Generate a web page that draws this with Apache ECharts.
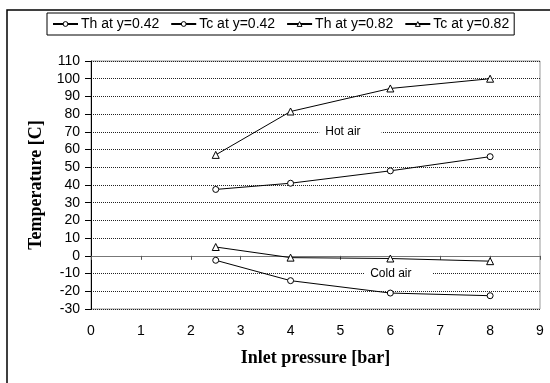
<!DOCTYPE html>
<html>
<head>
<meta charset="utf-8">
<script src="https://cdn.jsdelivr.net/npm/echarts@6/dist/echarts.min.js"></script>
<style>
  html, body { margin: 0; padding: 0; background: #fff; }
  #chart { width: 550px; height: 383px; }
</style>
</head>
<body>
<div id="chart"></div>
<script>
// inlet pressure [bar]
var pressure = [2.5, 4, 6, 8];
// temperatures [C]
var thLow = [37.5, 41, 48, 56];      // Th at y=0.42
var tcLow = [-2.5, -14, -21, -22.5]; // Tc at y=0.42
var thHigh = [57, 81.5, 94.5, 100];  // Th at y=0.82
var tcHigh = [5, -1, -1.5, -3];      // Tc at y=0.82

var names = ['Th at y=0.42', 'Tc at y=0.42', 'Th at y=0.82', 'Tc at y=0.82'];

function pairs(ys) {
    return pressure.map(function (x, i) { return [x, ys[i]]; });
}

function line(name, ys, symbol, size, extra) {
    var s = {
        name: name,
        type: 'line',
        xAxisIndex: 0,
        data: pairs(ys),
        symbol: symbol,
        symbolSize: size,
        showAllSymbol: true,
        lineStyle: {color: '#000', width: 1},
        itemStyle: {color: '#fff', borderColor: '#000', borderWidth: 1},
        emphasis: {disabled: true},
        z: 5
    };
    if (extra) s.markPoint = extra;
    return s;
}

// text note with a white box that breaks the gridline
function note(text, x, y) {
    return {
        symbol: 'circle',
        symbolSize: 1,
        silent: true,
        itemStyle: {color: 'rgba(0,0,0,0)', borderWidth: 0},
        data: [{coord: [x, y]}],
        label: {
            show: true,
            position: 'inside',
            formatter: text,
            color: '#000',
            fontFamily: 'Liberation Sans',
            fontSize: 12,
            backgroundColor: '#fff',
            padding: [3, 21, 3, 6]
        }
    };
}

var chart = echarts.init(document.getElementById('chart'));
chart.setOption({
    animation: false,
    textStyle: {fontFamily: 'Liberation Sans'},
    graphic: [{
        type: 'rect',
        shape: {x: 7, y: 10, width: 600, height: 420},
        style: {fill: 'none', stroke: '#000', lineWidth: 1.5},
        silent: true
    }],
    legend: {
        data: names,
        left: 47,
        top: 13,
        padding: [4, 5],
        itemGap: 11,
        itemWidth: 25,
        itemHeight: 6,
        borderColor: '#000',
        borderWidth: 1,
        itemStyle: {color: '#fff', borderColor: '#000', borderWidth: 1},
        textStyle: {color: '#000', fontSize: 14, fontFamily: 'Liberation Sans', padding: [0, 0, 0, -2]}
    },
    grid: {
        left: 91, right: 10, top: 61, bottom: 74,
        show: true,
        borderColor: '#999',
        borderWidth: 1
    },
    xAxis: [{
        type: 'value',
        min: 0, max: 9, interval: 1,
        position: 'bottom',
        name: 'Inlet pressure [bar]',
        nameLocation: 'middle',
        nameGap: 40,
        nameTextStyle: {fontFamily: 'Liberation Serif', fontWeight: 'bold', fontSize: 18, color: '#000'},
        axisLine: {show: false, onZero: false},
        axisTick: {show: false},
        splitLine: {show: false},
        axisLabel: {color: '#000', fontSize: 14, margin: 15}
    }, {
        type: 'value',
        min: 0, max: 9, interval: 1,
        position: 'bottom',
        axisLine: {show: true, onZero: true, lineStyle: {color: '#777', width: 1}},
        axisTick: {show: true, length: 4, lineStyle: {color: '#555'}},
        axisLabel: {show: false},
        splitLine: {show: false}
    }],
    yAxis: {
        type: 'value',
        min: -30, max: 110, interval: 10,
        name: 'Temperature [C]',
        nameLocation: 'middle',
        nameGap: 45,
        nameTextStyle: {fontFamily: 'Liberation Serif', fontWeight: 'bold', fontSize: 18, color: '#000'},
        axisLine: {show: true, lineStyle: {color: '#000', width: 1}},
        axisTick: {show: true, length: 6, lineStyle: {color: '#000'}},
        axisLabel: {color: '#000', fontSize: 14, margin: 11},
        splitLine: {show: true, lineStyle: {color: '#222', type: [1, 1], width: 1}}
    },
    series: [
        line(names[0], thLow, 'circle', 6, note('Hot air', 5.2, 70)),
        line(names[1], tcLow, 'circle', 6, note('Cold air', 6.16, -10)),
        line(names[2], thHigh, 'triangle', 7),
        line(names[3], tcHigh, 'triangle', 7)
    ]
});
</script>
</body>
</html>
